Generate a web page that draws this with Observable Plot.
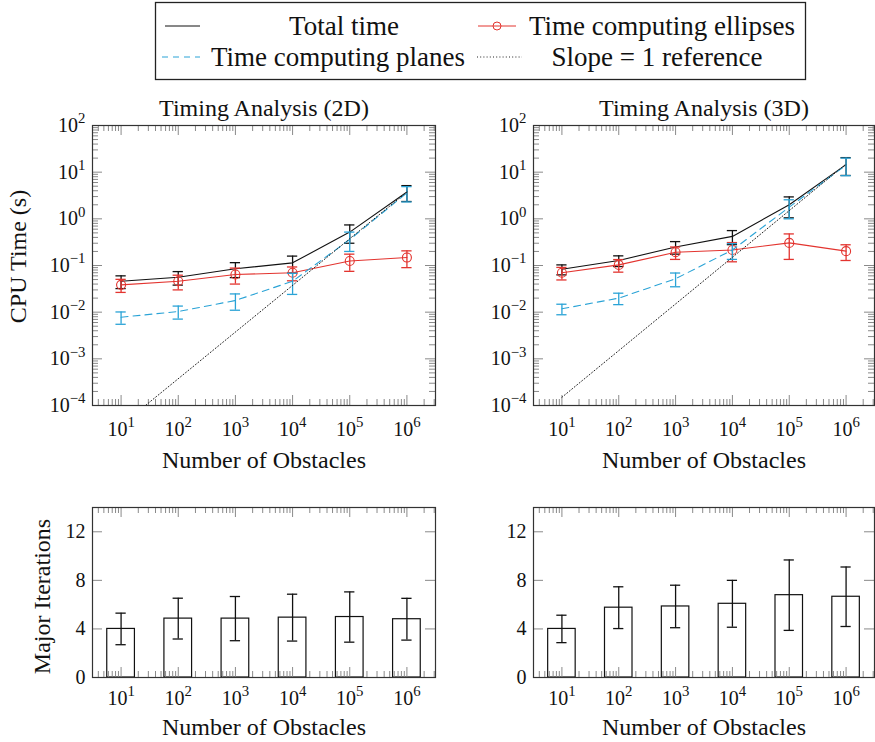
<!DOCTYPE html>
<html><head><meta charset="utf-8">
<script src="https://cdn.jsdelivr.net/npm/d3@7"></script>
<script src="https://cdn.jsdelivr.net/npm/@observablehq/plot@0.6"></script>
<style>
html,body{margin:0;padding:0;background:#fff;overflow:hidden;}
#root{position:relative;width:875px;height:742px;font-family:'Liberation Serif',serif;}
#root > div{position:absolute;}
#root text{font-family:'Liberation Serif',serif;}
</style></head><body><div id="root"></div>
<script>
// ---------- data ----------
const obstacles = [1e1, 1e2, 1e3, 1e4, 1e5, 1e6];

const total2D      = [0.046, 0.056, 0.085, 0.114, 0.52, 3.75];
const total2DErr   = [0.014, 0.018, 0.030, 0.045, 0.22, 1.40];
const ellipse2D    = [0.0385, 0.046, 0.064, 0.070, 0.125, 0.148];
const ellipse2DErr = [0.012, 0.016, 0.024, 0.023, 0.050, 0.058];
const planes2D     = [0.0078, 0.0103, 0.0178, 0.046, 0.36, 3.6];
const planes2DErr  = [0.0023, 0.0032, 0.0068, 0.022, 0.16, 1.3];

const total3D      = [0.083, 0.128, 0.25, 0.42, 2.0, 14.5];
const total3DErr   = [0.020, 0.033, 0.075, 0.14, 0.95, 6.0];
const ellipse3D    = [0.070, 0.103, 0.192, 0.215, 0.305, 0.203];
const ellipse3DErr = [0.021, 0.031, 0.057, 0.095, 0.170, 0.075];
const planes3D     = [0.0118, 0.0200, 0.052, 0.215, 1.78, 14.2];
const planes3DErr  = [0.0030, 0.0055, 0.017, 0.080, 0.78, 5.8];

const refObstacles = [1e1, 1e6];
const ref2D = [3.75e-5, 3.75];
const ref3D = [1.5e-4, 15];

const iter2D    = [4.0, 4.85, 4.85, 4.93, 4.98, 4.80];
const iter2DErr = [1.30, 1.68, 1.82, 1.93, 2.07, 1.72];
const iter3D    = [4.0, 5.75, 5.85, 6.07, 6.78, 6.65];
const iter3DErr = [1.13, 1.72, 1.75, 1.93, 2.90, 2.45];

const xTickValues = [1e1, 1e2, 1e3, 1e4, 1e5, 1e6];
const yTickValues = [1e-4, 1e-3, 1e-2, 1e-1, 1e0, 1e1, 1e2];
const iterTickValues = [0, 4, 8, 12];

const legendLabels = ["Total time", "Time computing ellipses", "Time computing planes", "Slope = 1 reference"];
const titles = ["Timing Analysis (2D)", "Timing Analysis (3D)"];
const xLabel = "Number of Obstacles";
const yLabelTime = "CPU Time (s)";
const yLabelIter = "Major Iterations";

// ---------- style ----------
const C = {total: "#111", ell: "#e3342f", planes: "#2aa3d6", ref: "#222", tick: "#8a8a8a", frame: "#333"};
const FONT = "'Liberation Serif', serif";
const xDomain = [10 ** 0.5, 10 ** 6.5];
const capF = 10 ** 0.09;
const barF = 10 ** 0.242;
const TICK_FS = 20, LABEL_FS = 24;

const fmtPow = d => "10^" + String(Math.round(Math.log10(d))).replace("-", "\u2212");

function minorLog(lo, hi) {
  const out = [];
  for (let e = Math.floor(Math.log10(lo)); e <= Math.ceil(Math.log10(hi)); e++)
    for (let k = 2; k <= 9; k++) { const v = k * 10 ** e; if (v > lo * 1.001 && v < hi * 0.999) out.push(v); }
  return out;
}
const xMinor = minorLog(xDomain[0], xDomain[1]);
const yMinor = minorLog(1e-4, 1e2);

const rows = (vals, errs) => obstacles.map((n, i) => ({n, v: vals[i], e: errs[i]}));

function xTicks(FH) {
  return [
    Plot.tickX(xMinor, {x: d => d, insetTop: FH - 6, stroke: C.tick}),
    Plot.tickX(xMinor, {x: d => d, insetBottom: FH - 6, stroke: C.tick}),
    Plot.tickX(xTickValues, {x: d => d, insetTop: FH - 10, stroke: C.tick}),
    Plot.tickX(xTickValues, {x: d => d, insetBottom: FH - 10, stroke: C.tick}),
  ];
}
function yTicks(vals, FW, len) {
  return [
    Plot.tickY(vals, {y: d => d, insetRight: FW - len, stroke: C.tick}),
    Plot.tickY(vals, {y: d => d, insetLeft: FW - len, stroke: C.tick}),
  ];
}
function series(data, color, opts = {}) {
  const m = [
    Plot.line(data, {x: "n", y: "v", stroke: color, strokeWidth: 1.1, strokeDasharray: opts.dash}),
    Plot.ruleX(data, {x: "n", y1: d => d.v - d.e, y2: d => d.v + d.e, stroke: color, strokeWidth: 1.3}),
    Plot.ruleY(data, {y: d => d.v + d.e, x1: d => d.n / capF, x2: d => d.n * capF, stroke: color, strokeWidth: 1.3}),
    Plot.ruleY(data, {y: d => d.v - d.e, x1: d => d.n / capF, x2: d => d.n * capF, stroke: color, strokeWidth: 1.3}),
  ];
  if (opts.dot) m.push(Plot.dot(data, {x: "n", y: "v", r: 4.5, stroke: color, strokeWidth: 1.1, fill: "none"}));
  return m;
}
const txt = (data, o) => Plot.text(data, {lineAnchor: "middle", fontFamily: FONT, fill: "#111", ...o});

// turn "10^k" into real text with a superscript tspan
function supify(svg) {
  const ns = "http://www.w3.org/2000/svg";
  svg.querySelectorAll("text").forEach(t => {
    const m = /^10\^(.+)$/.exec(t.textContent);
    if (!m) return;
    t.textContent = "";
    const a = document.createElementNS(ns, "tspan"); a.textContent = "10";
    const b = document.createElementNS(ns, "tspan"); b.textContent = m[1];
    b.setAttribute("dy", "-0.58em"); b.setAttribute("font-size", "0.74em");
    t.append(a, b);
  });
}

const root = document.getElementById("root");
function place(el, left, top) {
  const d = document.createElement("div");
  d.style.left = left + "px"; d.style.top = top + "px";
  d.appendChild(el); root.appendChild(d);
}

function timePanel({left, width, ml, mr, title, tot, totE, ell, ellE, pl, plE, ref, yLabel}) {
  const H = 395, mt = 40, mb = 75, FH = H - mt - mb, FW = width - ml - mr;
  const refData = refObstacles.map((n, i) => ({n, v: ref[i]}));
  const marks = [
    ...xTicks(FH),
    ...yTicks(yMinor, FW, 6),
    ...yTicks(yTickValues, FW, 10),
    ...series(rows(tot, totE), C.total),
    ...series(rows(ell, ellE), C.ell, {dot: true}),
    ...series(rows(pl, plE), C.planes, {dash: "7,5"}),
    Plot.line(refData, {x: "n", y: "v", stroke: C.ref, strokeWidth: 1, strokeDasharray: "1,2.2", clip: true}),
    Plot.frame({stroke: C.frame, strokeWidth: 1.2}),
    txt(xTickValues, {x: d => d, frameAnchor: "bottom", dy: 24, text: fmtPow, fontSize: TICK_FS}),
    txt(yTickValues, {y: d => d, frameAnchor: "left", dx: -7, textAnchor: "end", text: fmtPow, fontSize: TICK_FS}),
    txt([title], {frameAnchor: "top", dy: -17, fontSize: LABEL_FS}),
    txt([xLabel], {frameAnchor: "bottom", dy: 55, fontSize: LABEL_FS}),
  ];
  if (yLabel) marks.push(txt([yLabel], {frameAnchor: "left", dx: -74, dy: -9, rotate: -90, textAnchor: "middle", fontSize: LABEL_FS}));
  const svg = Plot.plot({
    width, height: H, marginLeft: ml, marginRight: mr, marginTop: mt, marginBottom: mb,
    x: {type: "log", domain: xDomain, axis: null},
    y: {type: "log", domain: [1e-4, 1e2], axis: null},
    style: {fontFamily: FONT, background: "transparent", color: "#111"},
    marks
  });
  supify(svg);
  place(svg, left, 85);
}

function iterPanel({left, width, ml, mr, vals, errs, yLabel}) {
  const H = 262, mt = 27, mb = 65, FH = H - mt - mb, FW = width - ml - mr;
  const data = rows(vals, errs);
  const marks = [
    Plot.rect(data, {x1: d => d.n / barF, x2: d => d.n * barF, y1: 0, y2: "v", fill: "white", stroke: "#111", strokeWidth: 1.2}),
    ...xTicks(FH),
    ...yTicks(iterTickValues, FW, 10),
    Plot.ruleX(data, {x: "n", y1: d => d.v - d.e, y2: d => d.v + d.e, stroke: "#111", strokeWidth: 1.3}),
    Plot.ruleY(data, {y: d => d.v + d.e, x1: d => d.n / capF, x2: d => d.n * capF, stroke: "#111", strokeWidth: 1.3}),
    Plot.ruleY(data, {y: d => d.v - d.e, x1: d => d.n / capF, x2: d => d.n * capF, stroke: "#111", strokeWidth: 1.3}),
    Plot.frame({stroke: C.frame, strokeWidth: 1.2}),
    txt(xTickValues, {x: d => d, frameAnchor: "bottom", dy: 21, text: fmtPow, fontSize: TICK_FS}),
    txt(iterTickValues, {y: d => d, frameAnchor: "left", dx: -7, textAnchor: "end", text: d => String(d), fontSize: TICK_FS}),
    txt([xLabel], {frameAnchor: "bottom", dy: 50, fontSize: LABEL_FS}),
  ];
  if (yLabel) marks.push(txt([yLabel], {frameAnchor: "left", dx: -50, dy: 4, rotate: -90, textAnchor: "middle", fontSize: LABEL_FS}));
  const svg = Plot.plot({
    width, height: H, marginLeft: ml, marginRight: mr, marginTop: mt, marginBottom: mb,
    x: {type: "log", domain: xDomain, axis: null},
    y: {type: "linear", domain: [0, 14], axis: null},
    style: {fontFamily: FONT, background: "transparent", color: "#111"},
    marks
  });
  supify(svg);
  place(svg, left, 480);
}

timePanel({left: 0, width: 445, ml: 92, mr: 10, title: titles[0], tot: total2D, totE: total2DErr, ell: ellipse2D, ellE: ellipse2DErr, pl: planes2D, plE: planes2DErr, ref: ref2D, yLabel: yLabelTime});
timePanel({left: 445, width: 430, ml: 88, mr: 1, title: titles[1], tot: total3D, totE: total3DErr, ell: ellipse3D, ellE: ellipse3DErr, pl: planes3D, plE: planes3DErr, ref: ref3D});
iterPanel({left: 0, width: 445, ml: 92, mr: 10, vals: iter2D, errs: iter2DErr, yLabel: yLabelIter});
iterPanel({left: 445, width: 430, ml: 88, mr: 1, vals: iter3D, errs: iter3DErr});

// ---------- legend ----------
const lg = d3.create("svg").attr("width", 875).attr("height", 84);
lg.append("rect").attr("x", 155.5).attr("y", 2.5).attr("width", 650).attr("height", 77)
  .attr("fill", "white").attr("stroke", "#222").attr("stroke-width", 1.3);
const items = [
  {label: legendLabels[0], color: C.total, x1: 165, x2: 200, y: 26, tx: 344, anchor: "middle"},
  {label: legendLabels[1], color: C.ell, x1: 478, x2: 516, y: 26, tx: 529, anchor: "start", dot: true},
  {label: legendLabels[2], color: C.planes, x1: 162, x2: 200, y: 57, tx: 211, anchor: "start", dash: "6,5"},
  {label: legendLabels[3], color: C.ref, x1: 477, x2: 522, y: 57, tx: 657, anchor: "middle", dash: "1,2.2"},
];
for (const it of items) {
  lg.append("line").attr("x1", it.x1).attr("x2", it.x2).attr("y1", it.y).attr("y2", it.y)
    .attr("stroke", it.color).attr("stroke-width", 1).attr("stroke-dasharray", it.dash || null);
  if (it.dot) lg.append("circle").attr("cx", (it.x1 + it.x2) / 2).attr("cy", it.y).attr("r", 4)
    .attr("fill", "none").attr("stroke", it.color);
  lg.append("text").attr("x", it.tx).attr("y", it.y).attr("dy", "0.35em").attr("text-anchor", it.anchor)
    .attr("font-family", FONT).attr("font-size", 27).attr("fill", "#111").text(it.label);
}
place(lg.node(), 0, 0);
</script></body></html>
